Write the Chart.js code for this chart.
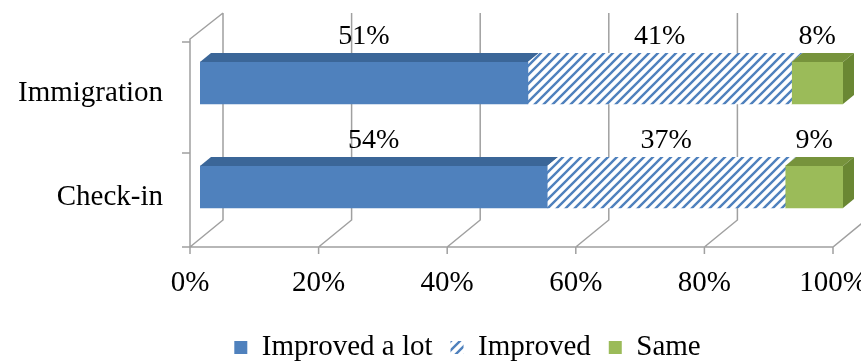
<!DOCTYPE html>
<html>
<head>
<meta charset="UTF-8">
<title>Improvement by area</title>
<script src="https://cdn.jsdelivr.net/npm/chart.js"></script>
<style>
  html, body { margin: 0; padding: 0; background: #fff; }
  #holder { width: 861px; height: 363px; position: relative; }
</style>
</head>
<body>
<div id="holder"><canvas id="chart-area"></canvas></div>
<script>
// data
var categories = ['Immigration', 'Check-in'];
var improvedALot = [51, 54];
var improved = [41, 37];
var same = [8, 9];
var seriesNames = ['Improved a lot', 'Improved', 'Same'];

var BLUE = '#4F81BD', BLUE_TOP = '#3B6698';
var GREEN = '#9BBB59', GREEN_TOP = '#77933C', GREEN_SIDE = '#6A8733';
var GRID = '#A0A0A0';
var FONT = 'Liberation Serif';

// wide upward diagonal hatch
function makeHatch(line) {
    var n = 9;
    var c = document.createElement('canvas');
    c.width = n; c.height = n;
    var g = c.getContext('2d');
    g.fillStyle = '#fff';
    g.fillRect(0, 0, n, n);
    g.strokeStyle = line;
    g.lineWidth = 2.4;
    g.beginPath();
    g.moveTo(-2, n + 2); g.lineTo(n + 2, -2);
    g.moveTo(-2, 2); g.lineTo(2, -2);
    g.moveTo(n - 2, n + 2); g.lineTo(n + 2, n - 2);
    g.stroke();
    return g.createPattern(c, 'repeat');
}
var ctx = document.getElementById('chart-area').getContext('2d');
var hatch = makeHatch(BLUE);

// 3d offsets of the front and back planes, relative to the bars
var FRONT = { dx: -10, dy: 8 }, BACK = { dx: 23, dy: -19 };
var DEPTH = { dx: 11, dy: 9 };
var LEGEND_SHIFT = { dx: 46, dy: 9 };

var walls = {
    id: 'walls',
    afterLayout: function (chart) {
        if (chart.legend) chart.legend._moved = false;
    },
    beforeDraw: function (chart) {
        // legend sits right of centre and a bit lower in the original
        var lg = chart.legend;
        if (lg && !lg._moved) {
            lg.left += LEGEND_SHIFT.dx;
            lg.right += LEGEND_SHIFT.dx;
            lg.top += LEGEND_SHIFT.dy;
            lg.bottom += LEGEND_SHIFT.dy;
            lg._moved = true;
        }
    },
    beforeDatasetsDraw: function (chart) {
        var c = chart.ctx, a = chart.chartArea, xs = chart.scales.x, ys = chart.scales.y;
        var p = function (v) { return xs.getPixelForValue(v); };
        c.save();
        c.strokeStyle = GRID;
        c.lineWidth = 1.5;
        c.beginPath();
        // back gridlines running down the wall and across the floor
        for (var v = 0; v <= 100; v += 20) {
            c.moveTo(p(v) + BACK.dx, a.top + BACK.dy + 1);
            c.lineTo(p(v) + BACK.dx, a.bottom + BACK.dy);
            c.lineTo(p(v) + FRONT.dx, a.bottom + FRONT.dy);
        }
        // side wall
        c.moveTo(p(0) + BACK.dx, a.top + BACK.dy + 1);
        c.lineTo(p(0) + FRONT.dx, a.top + FRONT.dy);
        c.lineTo(p(0) + FRONT.dx, a.bottom + FRONT.dy);
        // floor front edge
        c.lineTo(p(100) + FRONT.dx, a.bottom + FRONT.dy);
        c.lineTo(p(100) + BACK.dx, a.bottom + BACK.dy);
        // ticks
        for (v = 0; v <= 100; v += 20) {
            c.moveTo(p(v) + FRONT.dx, a.bottom + FRONT.dy);
            c.lineTo(p(v) + FRONT.dx, a.bottom + FRONT.dy + 7);
        }
        var mid = (ys.getPixelForTick(0) + ys.getPixelForTick(1)) / 2;
        [a.top + 11, mid + 18, a.bottom + FRONT.dy].forEach(function (y) {
            c.moveTo(p(0) + FRONT.dx - 8, y);
            c.lineTo(p(0) + FRONT.dx, y);
        });
        c.stroke();
        c.restore();
    },
    afterDatasetsDraw: function (chart) {
        var c = chart.ctx;
        c.save();
        chart.data.datasets.forEach(function (ds, i) {
            var meta = chart.getDatasetMeta(i);
            meta.data.forEach(function (bar, j) {
                var x0 = Math.min(bar.base, bar.x), x1 = Math.max(bar.base, bar.x);
                var top = bar.y - bar.height / 2, bot = bar.y + bar.height / 2;
                // top face
                c.fillStyle = ds.topColor;
                c.beginPath();
                c.moveTo(x0, top);
                c.lineTo(x0 + DEPTH.dx, top - DEPTH.dy);
                c.lineTo(x1 + DEPTH.dx, top - DEPTH.dy);
                c.lineTo(x1, top);
                c.closePath();
                c.fill();
                // right side of the last segment
                if (ds.sideColor) {
                    c.fillStyle = ds.sideColor;
                    c.beginPath();
                    c.moveTo(x1, top);
                    c.lineTo(x1 + DEPTH.dx, top - DEPTH.dy);
                    c.lineTo(x1 + DEPTH.dx, bot - DEPTH.dy);
                    c.lineTo(x1, bot);
                    c.closePath();
                    c.fill();
                }
                // value label above the segment
                c.fillStyle = '#000';
                c.font = '28px "' + FONT + '"';
                c.textAlign = 'center';
                c.textBaseline = 'middle';
                c.fillText(ds.data[j] + '%', (x0 + x1) / 2, top - 25);
            });
        });
        c.restore();
    }
};

var config = {
    type: 'bar',
    data: {
        labels: categories,
        datasets: [
            { label: seriesNames[0], data: improvedALot, backgroundColor: BLUE, topColor: BLUE_TOP },
            { label: seriesNames[1], data: improved, backgroundColor: hatch, topColor: hatch },
            { label: seriesNames[2], data: same, backgroundColor: GREEN, topColor: GREEN_TOP, sideColor: GREEN_SIDE }
        ]
    },
    options: {
        indexAxis: 'y',
        responsive: true,
        maintainAspectRatio: false,
        animation: false,
        layout: { padding: { top: 31, left: 0, right: 18, bottom: 0 } },
        datasets: { bar: { barThickness: 42, borderWidth: 0 } },
        scales: {
            x: {
                stacked: true,
                min: 0, max: 100,
                grid: { display: false, drawTicks: false },
                border: { display: false },
                ticks: {
                    stepSize: 20,
                    labelOffset: -10,
                    padding: 27,
                    color: '#000',
                    font: { family: FONT, size: 29 },
                    callback: function (v) { return v + '%'; }
                },
                afterFit: function (s) { s.paddingLeft = 0; s.paddingRight = 0; s.height = 67; }
            },
            y: {
                stacked: true,
                grid: { display: false, drawTicks: false },
                border: { display: false },
                ticks: {
                    labelOffset: 10,
                    padding: 37,
                    color: '#000',
                    font: { family: FONT, size: 29 }
                },
                afterFit: function (s) { s.width = 200; s.paddingTop = 0; s.paddingBottom = 0; }
            }
        },
        plugins: {
            tooltip: { enabled: false },
            legend: {
                position: 'bottom',
                labels: {
                    color: '#000',
                    font: { family: FONT, size: 29 },
                    boxWidth: 13,
                    boxHeight: 13,
                    padding: 18
                }
            }
        }
    },
    plugins: [walls]
};

window.myBar = new Chart(ctx, config);
</script>
</body>
</html>
